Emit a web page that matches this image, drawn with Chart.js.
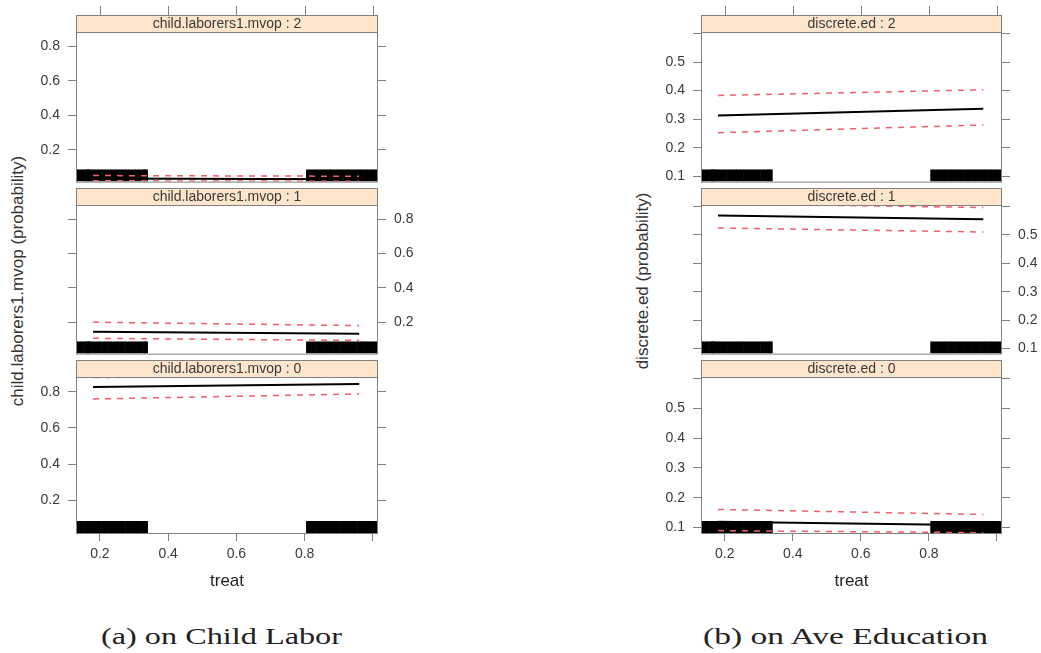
<!DOCTYPE html>
<html>
<head>
<meta charset="utf-8">
<script src="https://cdn.jsdelivr.net/npm/chart.js@4.4.0/dist/chart.umd.min.js"></script>
<style>
  body { margin: 0; background: #fff; width: 1041px; height: 653px; position: relative; overflow: hidden; font-family: "Liberation Sans", Arial, sans-serif; }
  canvas { position: absolute; }
  .ytitle { position: absolute; white-space: nowrap; font-size: 17px; color: #333; transform: translate(-50%, -50%) rotate(-90deg); }
  .caption { position: absolute; white-space: nowrap; font-family: "Liberation Serif", serif; font-size: 24px; color: #222; transform-origin: 0 0; }
</style>
</head>
<body>

<div class="ytitle" style="left:18px; top:281px;">child.laborers1.mvop (probability)</div>
<div class="ytitle" style="left:643px; top:281px;">discrete.ed (probability)</div>
<div class="caption" id="capA" data-w="241" style="left:101px; top:623px;">(a) on Child Labor</div>
<div class="caption" id="capB" data-w="285" style="left:703px; top:623px;">(b) on Ave Education</div>

<script>
// ---- DATA ----
// treat axis
const treatEnds = [0.18, 0.96];
const treatTicks = [0.2, 0.4, 0.6, 0.8, 1.0];
const treatLabels = ["0.2", "0.4", "0.6", "0.8", ""];
const treatRange = [0.13, 1.015];

// observed treat values (rug)
const rugTreat = [0.13, 0.14, 0.15, 0.16, 0.165, 0.17, 0.18, 0.19, 0.20, 0.21, 0.22, 0.23, 0.24,
  0.25, 0.26, 0.27, 0.28, 0.29, 0.30, 0.31, 0.32, 0.33, 0.335,
  0.81, 0.82, 0.83, 0.84, 0.85, 0.86, 0.87, 0.88, 0.89, 0.90, 0.91, 0.92, 0.93, 0.94,
  0.95, 0.96, 0.97, 0.98, 0.99, 1.00, 1.01];

// (a) child labor
const laborStrips = ["child.laborers1.mvop : 2", "child.laborers1.mvop : 1", "child.laborers1.mvop : 0"];
const laborTicks = [0.2, 0.4, 0.6, 0.8];
const laborTickLabels = ["0.2", "0.4", "0.6", "0.8"];
const laborRange = [0.017, 0.883];
const laborFit2 = [0.035, 0.030];
const laborLow2 = [0.022, 0.019];
const laborUp2 = [0.052, 0.048];
const laborFit1 = [0.144, 0.133];
const laborLow1 = [0.106, 0.094];
const laborUp1 = [0.200, 0.180];
const laborFit0 = [0.828, 0.844];
const laborLow0 = [0.761, 0.789];
const laborUp0 = [0.880, 0.890];

// (b) average education
const eduStrips = ["discrete.ed : 2", "discrete.ed : 1", "discrete.ed : 0"];
const eduTicks = [0.1, 0.2, 0.3, 0.4, 0.5, 0.6];
const eduTickLabels = ["0.1", "0.2", "0.3", "0.4", "0.5", ""];
const eduRange = [0.082, 0.605];
const eduFit2 = [0.313, 0.337];
const eduLow2 = [0.253, 0.280];
const eduUp2 = [0.383, 0.403];
const eduFit1 = [0.568, 0.555];
const eduLow1 = [0.524, 0.510];
const eduUp1 = [0.610, 0.596];
const eduFit0 = [0.120, 0.108];
const eduLow0 = [0.090, 0.083];
const eduUp0 = [0.161, 0.144];

// ---- LAYOUT ----
const STRIP_H = 17;
const panelTops = [15, 188, 360];      // top of each strip
const panelBottoms = [188, 360, 533];  // bottom of each data area
const GREY = "#808080";
const TEXT = "#3a3a3a";

// lattice-style extras: rug, box, strip, top ticks
const latticePlugin = {
  id: "lattice",
  beforeDatasetsDraw(chart, args, opts) {
    const ctx = chart.ctx, a = chart.chartArea, x = chart.scales.x;
    ctx.save();
    ctx.beginPath();
    ctx.rect(a.left, a.top, a.right - a.left, a.bottom - a.top);
    ctx.clip();
    ctx.strokeStyle = "#000";
    ctx.lineWidth = 4;
    rugTreat.forEach(v => {
      const px = x.getPixelForValue(v);
      ctx.beginPath();
      ctx.moveTo(px, a.bottom);
      ctx.lineTo(px, a.bottom - 12);
      ctx.stroke();
    });
    ctx.restore();
  },
  afterDraw(chart, args, opts) {
    const ctx = chart.ctx, a = chart.chartArea, x = chart.scales.x;
    ctx.save();
    ctx.strokeStyle = GREY;
    ctx.lineWidth = 1;
    ctx.strokeRect(a.left + 0.5, a.top + 0.5, a.right - a.left - 1, a.bottom - a.top);
    // strip
    const sTop = a.top - STRIP_H;
    ctx.fillStyle = "#ffe5cc";
    ctx.fillRect(a.left, sTop, a.right - a.left, STRIP_H);
    ctx.strokeRect(a.left + 0.5, sTop + 0.5, a.right - a.left - 1, STRIP_H);
    ctx.fillStyle = TEXT;
    ctx.font = "14px 'Liberation Sans', Arial, sans-serif";
    ctx.textAlign = "center";
    ctx.textBaseline = "middle";
    ctx.fillText(opts.strip, (a.left + a.right) / 2, sTop + STRIP_H / 2 + 1);
    if (opts.topTicks) {
      treatTicks.forEach(v => {
        const px = Math.round(x.getPixelForValue(v)) + 0.5;
        ctx.beginPath();
        ctx.moveTo(px, sTop);
        ctx.lineTo(px, sTop - 9);
        ctx.stroke();
      });
    }
    ctx.restore();
  }
};

function yScale(position, ticks, labels, range, showLabels, width) {
  return {
    type: "linear",
    position: position,
    min: range[0],
    max: range[1],
    afterBuildTicks: s => { s.ticks = ticks.map(v => ({ value: v })); },
    afterFit: s => { s.width = width; },
    ticks: {
      callback: (v, i) => showLabels ? labels[i] : "",
      font: { size: 14, family: "'Liberation Sans', Arial, sans-serif" },
      color: TEXT,
      padding: 8
    },
    grid: { drawOnChartArea: false, tickLength: 8, tickColor: GREY },
    border: { display: false }
  };
}

function pts(ys) {
  return ys.map((y, i) => ({ x: treatEnds[i], y: y }));
}

function makePanel(p) {
  const isTop = p.row === 0, isBottom = p.row === 2;
  const canvasTop = isTop ? 0 : panelTops[p.row];
  const canvasBottom = isBottom ? 600 : panelBottoms[p.row] + 10;
  const cv = document.createElement("canvas");
  cv.width = p.canvasW;
  cv.height = canvasBottom - canvasTop;
  cv.style.left = p.canvasL + "px";
  cv.style.top = canvasTop + "px";
  document.body.appendChild(cv);

  const labelLeft = p.row !== 1;
  const dash = { borderColor: "#f0606c", borderWidth: 1.5, borderDash: [6, 6], pointRadius: 0, fill: false };

  new Chart(cv.getContext("2d"), {
    type: "line",
    data: {
      datasets: [
        Object.assign({ data: pts(p.up) }, dash),
        Object.assign({ data: pts(p.low) }, dash),
        { data: pts(p.fit), borderColor: "#000", borderWidth: 2, pointRadius: 0, fill: false }
      ]
    },
    options: {
      responsive: false,
      animation: false,
      devicePixelRatio: 1,
      layout: {
        padding: {
          top: panelTops[p.row] - canvasTop + STRIP_H,
          bottom: isBottom ? 0 : 10,
          left: 0, right: 0
        }
      },
      plugins: {
        legend: { display: false },
        tooltip: { enabled: false },
        lattice: { strip: p.strip, topTicks: isTop }
      },
      scales: {
        x: {
          type: "linear",
          display: isBottom,
          min: treatRange[0],
          max: treatRange[1],
          afterBuildTicks: s => { s.ticks = treatTicks.map(v => ({ value: v })); },
          afterFit: s => { if (isBottom) s.height = 67; },
          ticks: {
            callback: (v, i) => treatLabels[i],
            font: { size: 14, family: "'Liberation Sans', Arial, sans-serif" },
            color: TEXT,
            padding: 5,
            maxRotation: 0
          },
          grid: { drawOnChartArea: false, tickLength: 8, tickColor: GREY },
          border: { display: false },
          title: {
            display: true,
            text: "treat",
            font: { size: 17, family: "'Liberation Sans', Arial, sans-serif" },
            color: "#222",
            padding: { top: 0, bottom: 8 }
          }
        },
        y: yScale("left", p.ticks, p.labels, p.range, labelLeft, p.leftW),
        yR: yScale("right", p.ticks, p.labels, p.range, !labelLeft, p.rightW)
      }
    },
    plugins: [latticePlugin]
  });
}

const laborFits = [laborFit2, laborFit1, laborFit0];
const laborLows = [laborLow2, laborLow1, laborLow0];
const laborUps = [laborUp2, laborUp1, laborUp0];
const eduFits = [eduFit2, eduFit1, eduFit0];
const eduLows = [eduLow2, eduLow1, eduLow0];
const eduUps = [eduUp2, eduUp1, eduUp0];

[0, 1, 2].forEach(r => {
  makePanel({
    row: r, canvasL: 0, canvasW: 450, leftW: 76, rightW: 72,
    strip: laborStrips[r], ticks: laborTicks, labels: laborTickLabels, range: laborRange,
    fit: laborFits[r], low: laborLows[r], up: laborUps[r]
  });
  makePanel({
    row: r, canvasL: 540, canvasW: 501, leftW: 161, rightW: 39,
    strip: eduStrips[r], ticks: eduTicks, labels: eduTickLabels, range: eduRange,
    fit: eduFits[r], low: eduLows[r], up: eduUps[r]
  });
});

// stretch captions to the reference width
document.querySelectorAll(".caption").forEach(el => {
  const w = el.getBoundingClientRect().width;
  el.style.transform = "scaleX(" + (Number(el.dataset.w) / w) + ")";
});
</script>
</body>
</html>
